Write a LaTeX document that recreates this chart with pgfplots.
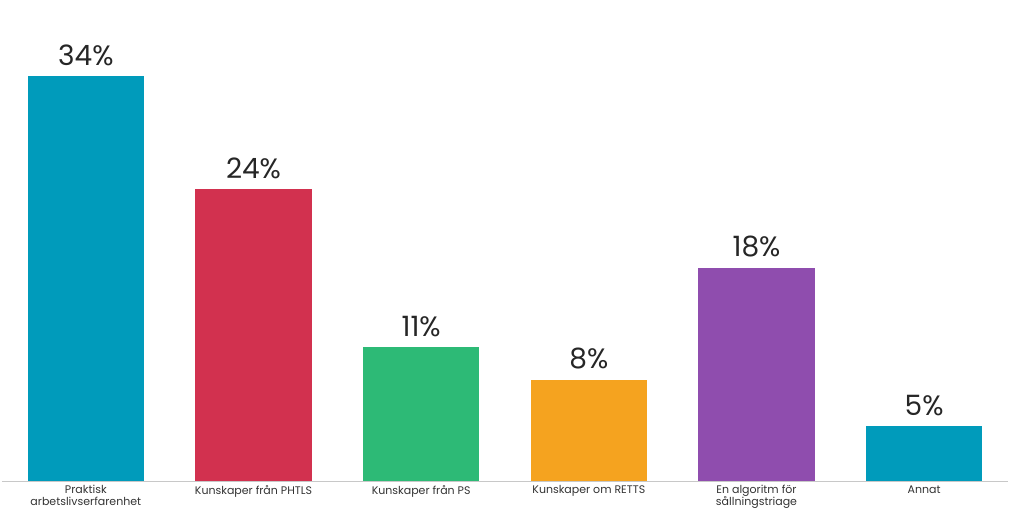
\documentclass[border=0pt]{standalone}
\usepackage{pgfplots}
\pgfplotsset{compat=1.18}
\usepackage{fontspec}
\setmainfont{Poppins}
\definecolor{cteal}{HTML}{009BBB}
\definecolor{cred}{HTML}{D2314F}
\definecolor{cgreen}{HTML}{2DBA76}
\definecolor{corange}{HTML}{F5A31F}
\definecolor{cpurple}{HTML}{8F4DAE}
\definecolor{axisgray}{HTML}{C8C8C8}

\begin{document}
\begin{tikzpicture}[x=1bp,y=1bp]
\path[use as bounding box] (0,0) rectangle (1024,529);
\begin{axis}[
    at={(2bp,48bp)}, anchor=south west,
    scale only axis,
    width=1006bp, height=480bp,
    xmin=-0.5, xmax=5.5,
    ymin=0, ymax=40,
    axis x line*=bottom,
    axis y line=none,
    x axis line style={draw=axisgray, line width=0.8pt, -},
    xtick={0,1,2,3,4,5},
    xticklabels={{Praktisk\\arbetslivserfarenhet},{Kunskaper från PHTLS},{Kunskaper från PS},{Kunskaper om RETTS},{En algoritm för\\sållningstriage},{Annat}},
    xticklabel style={align=center, font=\fontsize{11bp}{12bp}\selectfont, text=black!80, yshift=-1bp},
    major tick length=0pt,
    ybar, bar width=116.5bp,
    bar shift=0pt,
    nodes near coords,
    point meta=explicit symbolic,
    every node near coord/.append style={font=\fontsize{28bp}{30bp}\selectfont, text=black!85, yshift=7bp},
    clip=false,
]
\addplot[fill=cteal, draw=none] coordinates {(0,33.75) [34\%]};
\addplot[fill=cred, draw=none] coordinates {(1,24.33) [24\%]};
\addplot[fill=cgreen, draw=none] coordinates {(2,11.17) [11\%]};
\addplot[fill=corange, draw=none] coordinates {(3,8.42) [8\%]};
\addplot[fill=cpurple, draw=none] coordinates {(4,17.75) [18\%]};
\addplot[fill=cteal, draw=none] coordinates {(5,4.58) [5\%]};
\end{axis}
\end{tikzpicture}
\end{document}
